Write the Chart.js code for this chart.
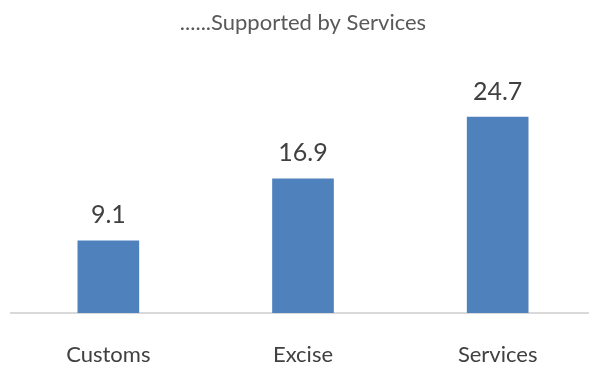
<!DOCTYPE html>
<html>
<head>
<meta charset="utf-8">
<script src="https://cdn.jsdelivr.net/npm/chart.js@4/dist/chart.umd.min.js"></script>
<style>
  html, body { margin: 0; padding: 0; background: #fff; overflow: hidden; }
  #wrap { width: 595px; height: 366px; }
</style>
</head>
<body>
<div id="wrap"><canvas id="grafTax"></canvas></div>
<script>
const categories = ["Customs", "Excise", "Services"];
const values = [9.1, 16.9, 24.7];
const chartTitle = "......Supported by Services";

const FONT = "Lato, 'Open Sans', sans-serif";

// etiquetas de valor encima de cada barra
const valueLabels = {
  id: "valueLabels",
  afterDatasetsDraw(chart) {
    const { ctx } = chart;
    const meta = chart.getDatasetMeta(0);
    ctx.save();
    ctx.font = "25px " + FONT;
    ctx.fillStyle = "#404040";
    ctx.textAlign = "center";
    ctx.textBaseline = "bottom";
    meta.data.forEach((bar, i) => {
      ctx.fillText(values[i].toFixed(1), bar.x, bar.y - 13);
    });
    ctx.restore();
  },
};

new Chart(document.getElementById("grafTax"), {
  type: "bar",
  data: {
    labels: categories,
    datasets: [
      {
        data: values,
        backgroundColor: "#4F81BD",
        borderWidth: 0,
        barThickness: 61,
      },
    ],
  },
  options: {
    responsive: true,
    maintainAspectRatio: false,
    animation: false,
    layout: { padding: { left: 11, right: 0, top: 0, bottom: 0 } },
    plugins: {
      legend: { display: false },
      tooltip: { enabled: false },
      title: {
        display: true,
        text: chartTitle,
        color: "#595959",
        font: { family: FONT, size: 22, weight: "normal" },
        padding: { top: 10, bottom: 38.6 },
      },
    },
    scales: {
      x: {
        grid: { display: false, drawTicks: false },
        border: { display: true, color: "#d9d9d9", width: 2 },
        ticks: {
          color: "#404040",
          font: { family: FONT, size: 22 },
          padding: 29,
        },
        afterFit: (axis) => { axis.height = 53; },
      },
      y: {
        display: false,
        min: 0,
        max: 30,
      },
    },
  },
  plugins: [valueLabels],
});
</script>
</body>
</html>
